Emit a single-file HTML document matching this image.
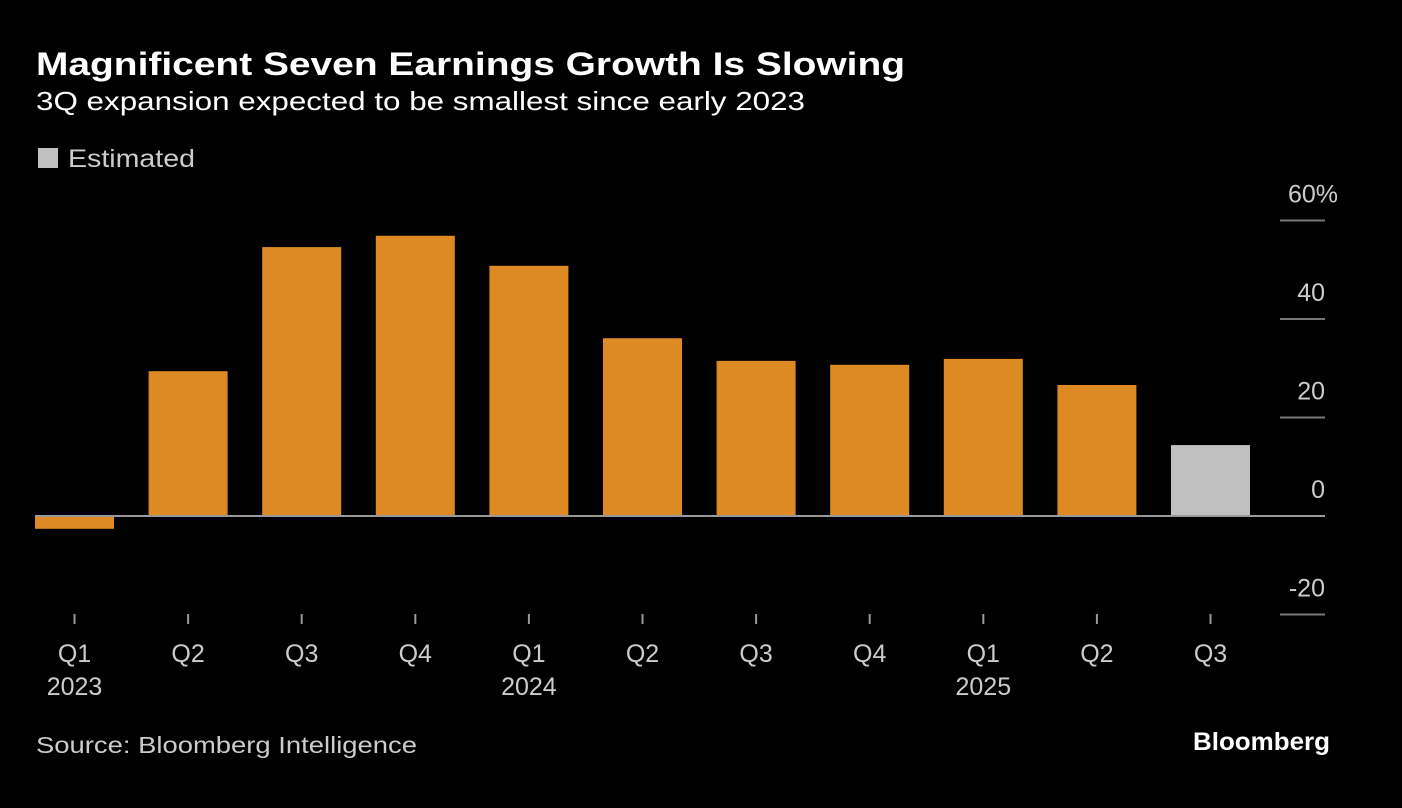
<!DOCTYPE html>
<html><head><meta charset="utf-8"><style>
body{margin:0;background:#000;width:1402px;height:803px;overflow:hidden;font-family:"Liberation Sans",sans-serif;}
svg text{font-family:"Liberation Sans",sans-serif;}
</style></head><body>
<svg width="1402" height="803">
<text x="36" y="75" fill="#fff" font-size="32" font-weight="bold" textLength="869" lengthAdjust="spacingAndGlyphs">Magnificent Seven Earnings Growth Is Slowing</text>
<text x="36" y="110" fill="#fff" font-size="26" textLength="769" lengthAdjust="spacingAndGlyphs">3Q expansion expected to be smallest since early 2023</text>
<rect x="38" y="148" width="20" height="20" fill="#c0c0c0"/>
<text x="68" y="167" fill="#ccc" font-size="25" textLength="127" lengthAdjust="spacingAndGlyphs">Estimated</text>
<g id="grid"></g><g id="bars"></g><g id="xaxis"></g>
<text x="36" y="753" fill="#ccc" font-size="23" textLength="381" lengthAdjust="spacingAndGlyphs">Source: Bloomberg Intelligence</text>
<text x="1330" y="750" fill="#fff" font-size="25" font-weight="bold" text-anchor="end" textLength="137" lengthAdjust="spacingAndGlyphs">Bloomberg</text>
</svg>
<script>
const quarters=["Q1","Q2","Q3","Q4","Q1","Q2","Q3","Q4","Q1","Q2","Q3"];
const years=["2023","","","","2024","","","","2025","",""];
const values=[-2.6,29.4,54.6,56.9,50.8,36.1,31.5,30.7,31.9,26.6,14.4];
const estimated=[false,false,false,false,false,false,false,false,false,false,true];
const ticks=[60,40,20,0,-20];
const tickLabels=["60%","40","20","0","-20"];
const NS="http://www.w3.org/2000/svg";
const y=v=>516-v*4.925;
const x=i=>74.5+i*113.6;
const bw=79;
function mk(t,a,p){const e=document.createElementNS(NS,t);for(const k in a)e.setAttribute(k,a[k]);p.appendChild(e);return e;}
const g=document.getElementById('grid'),b=document.getElementById('bars'),xa=document.getElementById('xaxis');
ticks.forEach((t,i)=>{
 const l=mk('line',{x1:1280,x2:1325,y1:y(t),y2:y(t),stroke:'#777','stroke-width':2},g);
 
 
 const lab=tickLabels[i];
 const tx=mk('text',{x:lab.endsWith('%')?1338:1325,y:y(t)-18,fill:'#ccc','font-size':25,'text-anchor':'end'},g);
 tx.textContent=lab;
 
 
});
values.forEach((v,i)=>{
 const r=mk('rect',{x:x(i)-bw/2,y:Math.min(y(v),y(0)),width:bw,height:Math.abs(y(v)-y(0)),fill:estimated[i]?'#c0c0c0':'#dd8a24'},b);
 
 
 const tk=mk('line',{x1:x(i),x2:x(i),y1:614,y2:624,stroke:'#999','stroke-width':2},xa);
 
 
 const q=mk('text',{x:x(i),y:662,fill:'#ccc','font-size':25,'text-anchor':'middle'},xa);
 q.textContent=quarters[i];
 
 
 if(years[i]){const yt=mk('text',{x:x(i),y:695,fill:'#ccc','font-size':25,'text-anchor':'middle'},xa);
 yt.textContent=years[i];
 
 }
});
const z=mk('line',{x1:35,x2:1325,y1:y(0),y2:y(0),stroke:'#999','stroke-width':2},b);


</script>
</body></html>
